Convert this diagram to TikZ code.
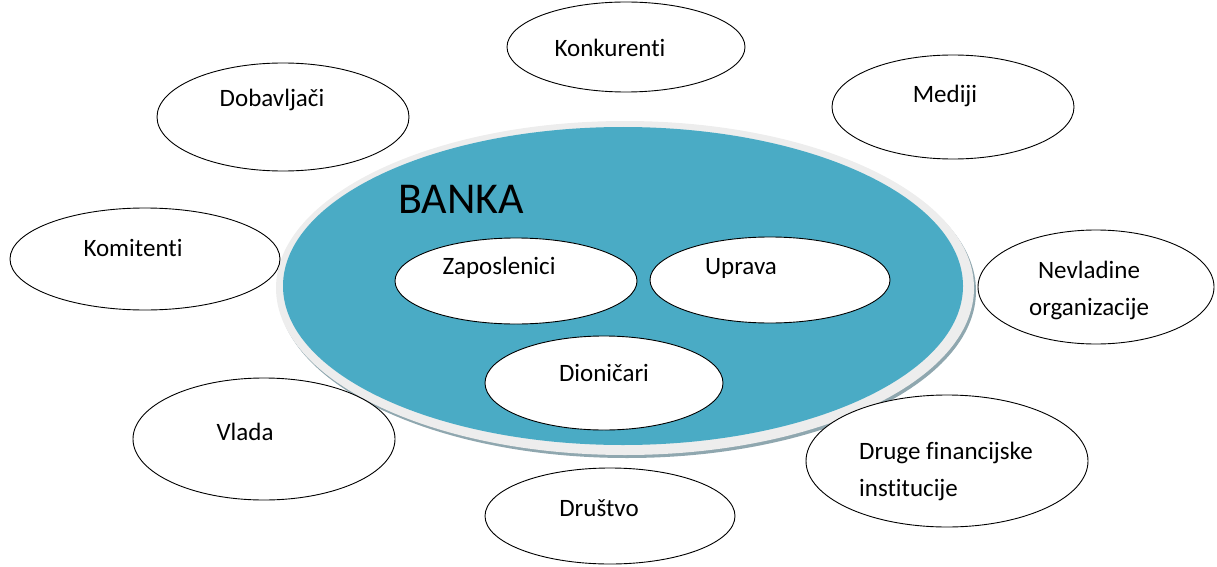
\documentclass[tikz,border=0pt]{standalone}
\usepackage{fontspec}
\setmainfont[Ligatures=NoCommon]{Carlito}
\usetikzlibrary{shapes.geometric}
\definecolor{teal5}{HTML}{4AABC5}
\definecolor{rim}{HTML}{EDEDED}
\definecolor{rimshadow}{HTML}{8FA7AF}
\tikzset{
  oval/.style={ellipse, draw=black, line width=0.9pt, fill=white, inner sep=0pt, outer sep=0pt},
  lbl/.style={font=\fontsize{25}{37}\selectfont, align=center, inner sep=0pt},
}
\begin{document}
\begin{tikzpicture}[x=1pt,y=-1pt]
\useasboundingbox (0,0) rectangle (1217,567);
% bank
\node[ellipse, fill=rimshadow, minimum width=698pt, minimum height=334pt, inner sep=0pt] (bankshadow) at (627,291) {};
\node[ellipse, fill=rim, minimum width=698pt, minimum height=334pt, inner sep=0pt] (bankrim) at (625,288) {};
\node[ellipse, fill=teal5, minimum width=680pt, minimum height=318pt, inner sep=0pt] (bank) at (623,286) {};
\node[font=\fontsize{44}{50}\selectfont, inner sep=0pt] (bankt) at (461,199) {BANKA};
% inner
\node[oval, minimum width=242pt, minimum height=86pt] (zap) at (516,281) {};
\node[lbl] (zapt) at (499,268) {Zaposlenici};
\node[oval, minimum width=240pt, minimum height=86pt] (upr) at (770,280) {};
\node[lbl] (uprt) at (741,268) {Uprava};
\node[oval, minimum width=238pt, minimum height=94pt] (dio) at (604,383) {};
\node[lbl] (diot) at (604,373) {Dioničari};
% outer
\node[oval, minimum width=238pt, minimum height=90pt] (kon) at (626,47) {};
\node[lbl] (kont) at (610,48) {Konkurenti};
\node[oval, minimum width=252pt, minimum height=108pt] (dob) at (283,117) {};
\node[lbl] (dobt) at (272,100) {Dobavljači};
\node[oval, minimum width=242pt, minimum height=104pt] (med) at (953,107) {};
\node[lbl] (medt) at (945,96) {Mediji};
\node[oval, minimum width=270pt, minimum height=102pt] (kom) at (145,259) {};
\node[lbl] (komt) at (133,248) {Komitenti};
\node[oval, minimum width=236pt, minimum height=114pt] (nev) at (1096,287) {};
\node[lbl] (nevt) at (1089,290) {Nevladine\\organizacije};
\node[oval, minimum width=262pt, minimum height=122pt] (vla) at (264,439) {};
\node[lbl] (vlat) at (245,432) {Vlada};
\node[oval, minimum width=250pt, minimum height=96pt] (dru) at (610,516) {};
\node[lbl] (drut) at (599,508) {Društvo};
\node[oval, minimum width=282pt, minimum height=132pt] (dfi) at (947,461) {};
\node[lbl, align=left] (dfit) at (946,471) {Druge financijske\\institucije};
\end{tikzpicture}
\end{document}
